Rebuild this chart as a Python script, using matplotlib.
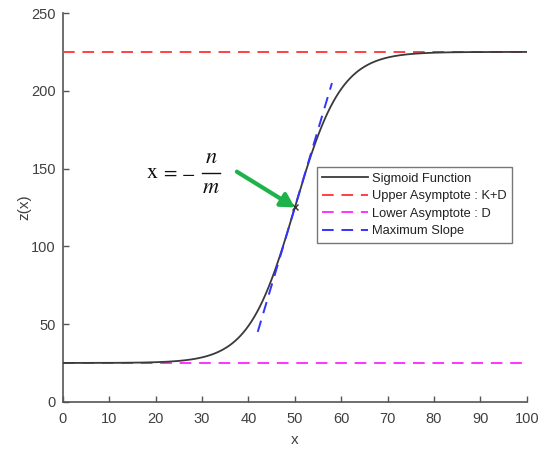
import numpy as np
import matplotlib
matplotlib.use("Agg")
import matplotlib.pyplot as plt
from matplotlib.lines import Line2D

# Sigmoid parameters: z(x) = D + K / (1 + exp(-(m*x + n)))
K = 200.0
D = 25.0
m = 0.2
n = -10.0

x_range = [0, 100]
slope_span = [42, 58]
x_ticks = [0, 10, 20, 30, 40, 50, 60, 70, 80, 90, 100]
y_ticks = [0, 50, 100, 150, 200, 250]

plt.rcParams['font.family'] = ['Liberation Sans', 'DejaVu Sans']
plt.rcParams['mathtext.fontset'] = 'stix'

x = np.linspace(x_range[0], x_range[1], 500)
z = D + K / (1 + np.exp(-(m * x + n)))

x0 = -n / m
z0 = D + K / 2
s = K * m / 4
xs = np.array(slope_span, dtype=float)
zs = z0 + s * (xs - x0)

fig = plt.figure(figsize=(5.47, 4.5), dpi=100)
ax = fig.add_axes([0.115, 0.107, 0.848, 0.864])

ax.plot(x, z, color='#3a3a3a', lw=1.3, label='Sigmoid Function', zorder=4)
ax.plot(x_range, [K + D, K + D], color='#ff4040', lw=1.4, dashes=(6, 4),
        label='Upper Asymptote : K+D', zorder=3)
ax.plot(x_range, [D, D], color='#ff33ff', lw=1.4, dashes=(6, 4),
        label='Lower Asymptote : D', zorder=3)
ax.plot(xs, zs, color='#3333ff', lw=1.4, dashes=(6, 4),
        label='Maximum Slope', zorder=5)
ax.plot([x0], [z0], marker='x', color='#333333', ms=5, mew=1.0, zorder=6)

ax.annotate('', xy=(x0, z0), xytext=(37.5, 148),
            arrowprops=dict(arrowstyle='-|>,head_length=0.8,head_width=0.45',
                            color='#1db34a', lw=3, shrinkA=0, shrinkB=0),
            zorder=7)

# Equation label x = -n/m, built piece by piece as a stacked fraction
eq_base = 144.1
bar_y = 147.4
eq_kw = dict(fontsize=16, ha='center', va='baseline', color='#111111')
op_kw = dict(eq_kw, fontsize=14)
ax.text(19.2, eq_base, r'$\mathrm{x}$', **eq_kw)
ax.text(23.0, eq_base, r'$=$', **op_kw)
ax.text(27.0, eq_base, r'$-$', **op_kw)
ax.text(31.9, 153.6, r'$n$', **eq_kw)
ax.text(31.9, 134.3, r'$m$', **eq_kw)
ax.add_line(Line2D([30.0, 33.8], [bar_y, bar_y], color='#111111',
                   lw=1.0, clip_on=False))

ax.set_xlim(x_range)
ax.set_ylim(0, 250)
ax.set_xticks(x_ticks)
ax.set_yticks(y_ticks)
for side in ['top', 'right']:
    ax.spines[side].set_visible(False)
for side in ['left', 'bottom']:
    ax.spines[side].set_color('#555555')
    ax.spines[side].set_linewidth(1.2)
ax.tick_params(direction='in', length=4, width=1, colors='#555555',
               labelcolor='#404040', labelsize=10.5)
ax.tick_params(axis='x', pad=7)
ax.tick_params(axis='y', pad=5)
ax.set_xlabel('x', fontsize=11, color='#404040', labelpad=5)
ax.set_ylabel('z(x)', fontsize=11, color='#404040', labelpad=0)

leg = ax.legend(loc='upper left', bbox_to_anchor=(0.547, 0.604), fontsize=9.3,
                frameon=True, fancybox=False, edgecolor='#555555',
                handlelength=3.5, handletextpad=0.3, borderpad=0.45,
                labelspacing=0.42, borderaxespad=0)
leg.get_frame().set_linewidth(1.0)
for t in leg.get_texts():
    t.set_color('#222222')

fig.savefig('out.png', dpi=100, facecolor='white')
